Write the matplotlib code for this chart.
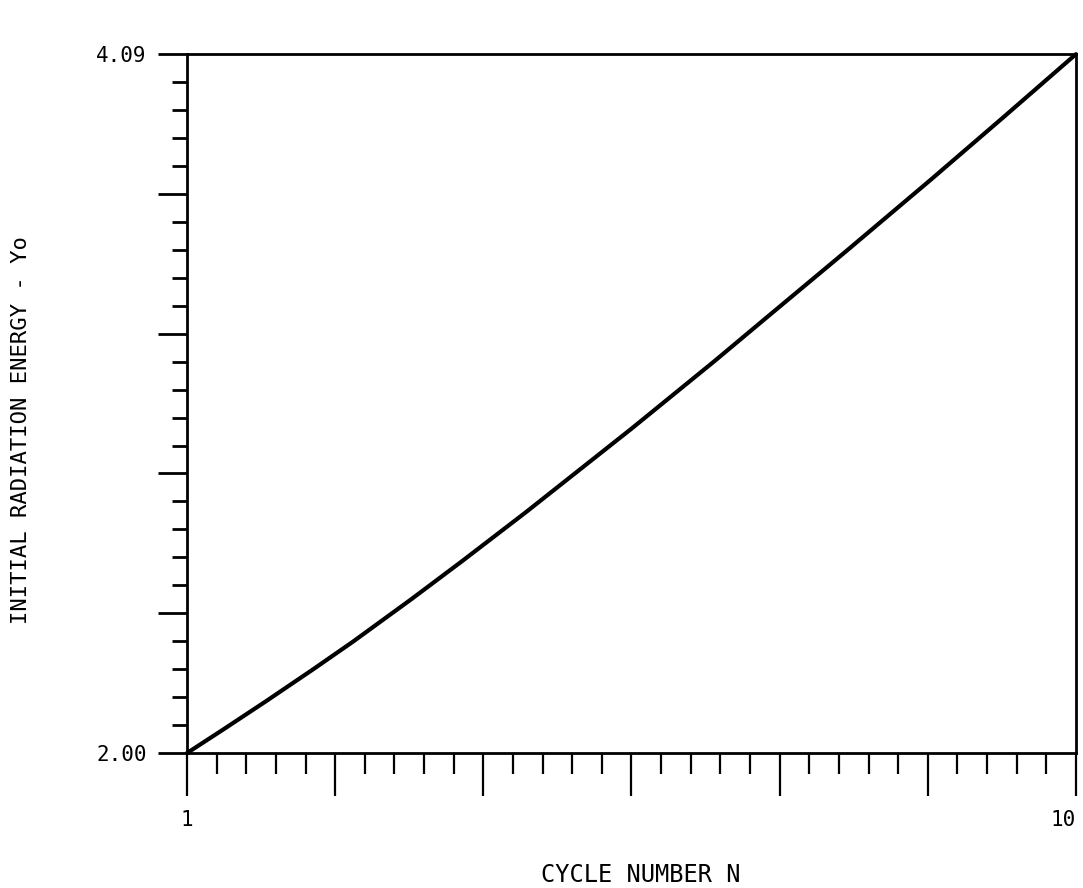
import numpy as np
import matplotlib
matplotlib.use("Agg")
import matplotlib.pyplot as plt
import matplotlib.ticker as ticker

# values
cycle_n = [1.0, 1.37, 1.80, 2.28, 2.68, 3.28, 3.79, 4.43, 5.50, 6.34, 6.85, 7.67, 8.52, 9.26, 10.0]
y0 = [2.000, 2.071, 2.155, 2.251, 2.333, 2.462, 2.575, 2.720, 2.970, 3.172, 3.298, 3.500, 3.712, 3.900, 4.090]

x_min, x_max = 1.0, 10.0
y_min, y_max = 2.00, 4.09
x_labels = ["1", "10"]
y_labels = ["2.00", "4.09"]

plt.rcParams['font.family'] = ['DejaVu Sans Mono', 'DejaVu Sans']

fig = plt.figure(figsize=(10.83, 8.88), dpi=100)
ax = fig.add_axes([0.1727, 0.152, 0.8208, 0.787])

ax.plot(cycle_n, y0, color='black', linewidth=3.0, clip_on=False,
        solid_capstyle='round', solid_joinstyle='round')

ax.set_xlim(x_min, x_max)
ax.set_ylim(y_min, y_max)

# 30 minor steps along N, major every 5; 25 minor steps along Y
x_major = np.linspace(x_min, x_max, 7)
x_minor = np.linspace(x_min, x_max, 31)
y_major = np.linspace(y_min, y_max, 6)
y_minor = np.linspace(y_min, y_max, 26)

ax.xaxis.set_major_locator(ticker.FixedLocator(x_major))
ax.xaxis.set_minor_locator(ticker.FixedLocator(x_minor))
ax.yaxis.set_major_locator(ticker.FixedLocator(y_major))
ax.yaxis.set_minor_locator(ticker.FixedLocator(y_minor))

ax.xaxis.set_major_formatter(ticker.FixedFormatter([x_labels[0], "", "", "", "", "", x_labels[1]]))
ax.yaxis.set_major_formatter(ticker.FixedFormatter([y_labels[0], "", "", "", "", y_labels[1]]))
ax.xaxis.set_minor_formatter(ticker.NullFormatter())
ax.yaxis.set_minor_formatter(ticker.NullFormatter())

ax.tick_params(axis='x', which='major', direction='out', length=31, width=1.6, pad=10, labelsize=15)
ax.tick_params(axis='x', which='minor', direction='out', length=15, width=1.6)
ax.tick_params(axis='y', which='major', direction='out', length=21, width=2.0, pad=8, labelsize=15)
ax.tick_params(axis='y', which='minor', direction='out', length=11, width=2.0)

# keep the "10" inside the figure
fig.canvas.draw()
ax.get_xticklabels()[-1].set_horizontalalignment('right')

for s in ax.spines.values():
    s.set_linewidth(2.0)
    s.set_color('black')

ax.set_xlabel("CYCLE NUMBER N", fontsize=17)
ax.set_ylabel("INITIAL RADIATION ENERGY - Yo", fontsize=16)
ax.xaxis.set_label_coords(0.51, -0.157)
ax.yaxis.set_label_coords(-0.175, 0.462)

fig.savefig("out.png", dpi=100, facecolor='white')
